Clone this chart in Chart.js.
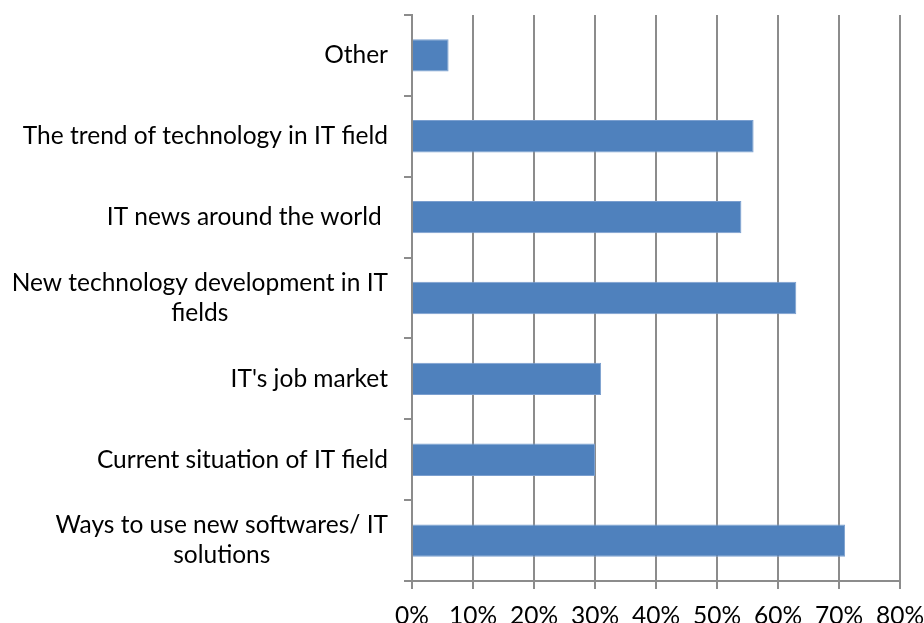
<!DOCTYPE html>
<html>
<head>
<meta charset="utf-8">
<script src="https://cdn.jsdelivr.net/npm/chart.js@4.4.0/dist/chart.umd.min.js"></script>
<style>
    body { margin: 0; background: #ffffff; }
</style>
</head>
<body>
<canvas id="topicsChart" width="924" height="623"></canvas>
<script>

const CATEGORIES = [
    'Other',
    'The trend of technology in IT field',
    'IT news around the world ',
    ['New technology development in IT', 'fields'],
    "IT's job market",
    'Current situation of IT field',
    ['Ways to use new softwares/ IT', 'solutions']
];

const VALUES = [6, 56, 54, 63, 31, 30, 71];

const X_TICKS = [0, 10, 20, 30, 40, 50, 60, 70, 80];

const BAR_COLOR = '#4f81bd';
const GRID_COLOR = '#8c8c8c';
const LABEL_FONT = { family: 'Lato', size: 24.5 };

// excel centers each wrapped label block, chart.js only right-aligns it
const centeredLabels = {
    id: 'centeredLabels',
    afterDraw(chart) {
        var scale = chart.scales.y;
        var ctx = chart.ctx;
        var right = scale.right - 8 - scale.options.ticks.padding;
        ctx.save();
        ctx.font = LABEL_FONT.size + 'px ' + LABEL_FONT.family;
        ctx.fillStyle = '#000000';
        ctx.textAlign = 'center';
        ctx.textBaseline = 'middle';
        for (let i = 0; i < chart.data.labels.length; i++) {
            var lines = [].concat(chart.data.labels[i]);
            var maxW = 0;
            for (let j = 0; j < lines.length; j++) {
                maxW = Math.max(maxW, ctx.measureText(lines[j]).width);
            }
            var cx = right - maxW / 2;
            var y = scale.getPixelForTick(i);
            var lh = 30;
            var top = y - (lines.length - 1) * lh / 2;
            for (let j = 0; j < lines.length; j++) {
                ctx.fillText(lines[j], cx, top + j * lh);
            }
        }
        ctx.restore();
    }
};

var data = {
    labels: CATEGORIES,
    datasets: [
        {
            data: VALUES,
            backgroundColor: BAR_COLOR,
            borderColor: '#7b9fcf',
            borderWidth: 1,
            barPercentage: 0.4,
            categoryPercentage: 1.0
        }
    ]
};

var config = {
    type: 'bar',
    data: data,
    options: {
        indexAxis: 'y',
        responsive: false,
        animation: false,
        layout: {
            padding: { left: 0, right: 24, top: 15, bottom: 0 }
        },
        plugins: {
            legend: { display: false },
            tooltip: { enabled: false }
        },
        scales: {
            x: {
                min: 0,
                max: 80,
                afterBuildTicks: function (axis) {
                    axis.ticks = X_TICKS.map(function (v) { return { value: v }; });
                },
                border: { color: GRID_COLOR, width: 2 },
                grid: {
                    color: GRID_COLOR,
                    lineWidth: 2,
                    tickLength: 8,
                    drawOnChartArea: true
                },
                ticks: {
                    color: '#000000',
                    font: LABEL_FONT,
                    padding: 12,
                    maxRotation: 0,
                    callback: function (v) { return v + '%'; }
                },
                afterFit: function (axis) {
                    // labels run off the bottom edge like in the original
                    axis.height = 42;
                    axis.paddingLeft = 0;
                    axis.paddingRight = 0;
                }
            },
            y: {
                border: { color: GRID_COLOR, width: 2 },
                grid: {
                    color: GRID_COLOR,
                    lineWidth: 2,
                    tickLength: 8,
                    offset: true,
                    drawOnChartArea: false
                },
                ticks: {
                    color: 'rgba(0,0,0,0)',
                    font: LABEL_FONT,
                    padding: 16
                },
                afterFit: function (axis) {
                    axis.width = 412;
                    axis.paddingTop = 0;
                    axis.paddingBottom = 0;
                }
            }
        }
    },
    plugins: [centeredLabels]
};

new Chart(document.getElementById('topicsChart'), config);
</script>
</body>
</html>
